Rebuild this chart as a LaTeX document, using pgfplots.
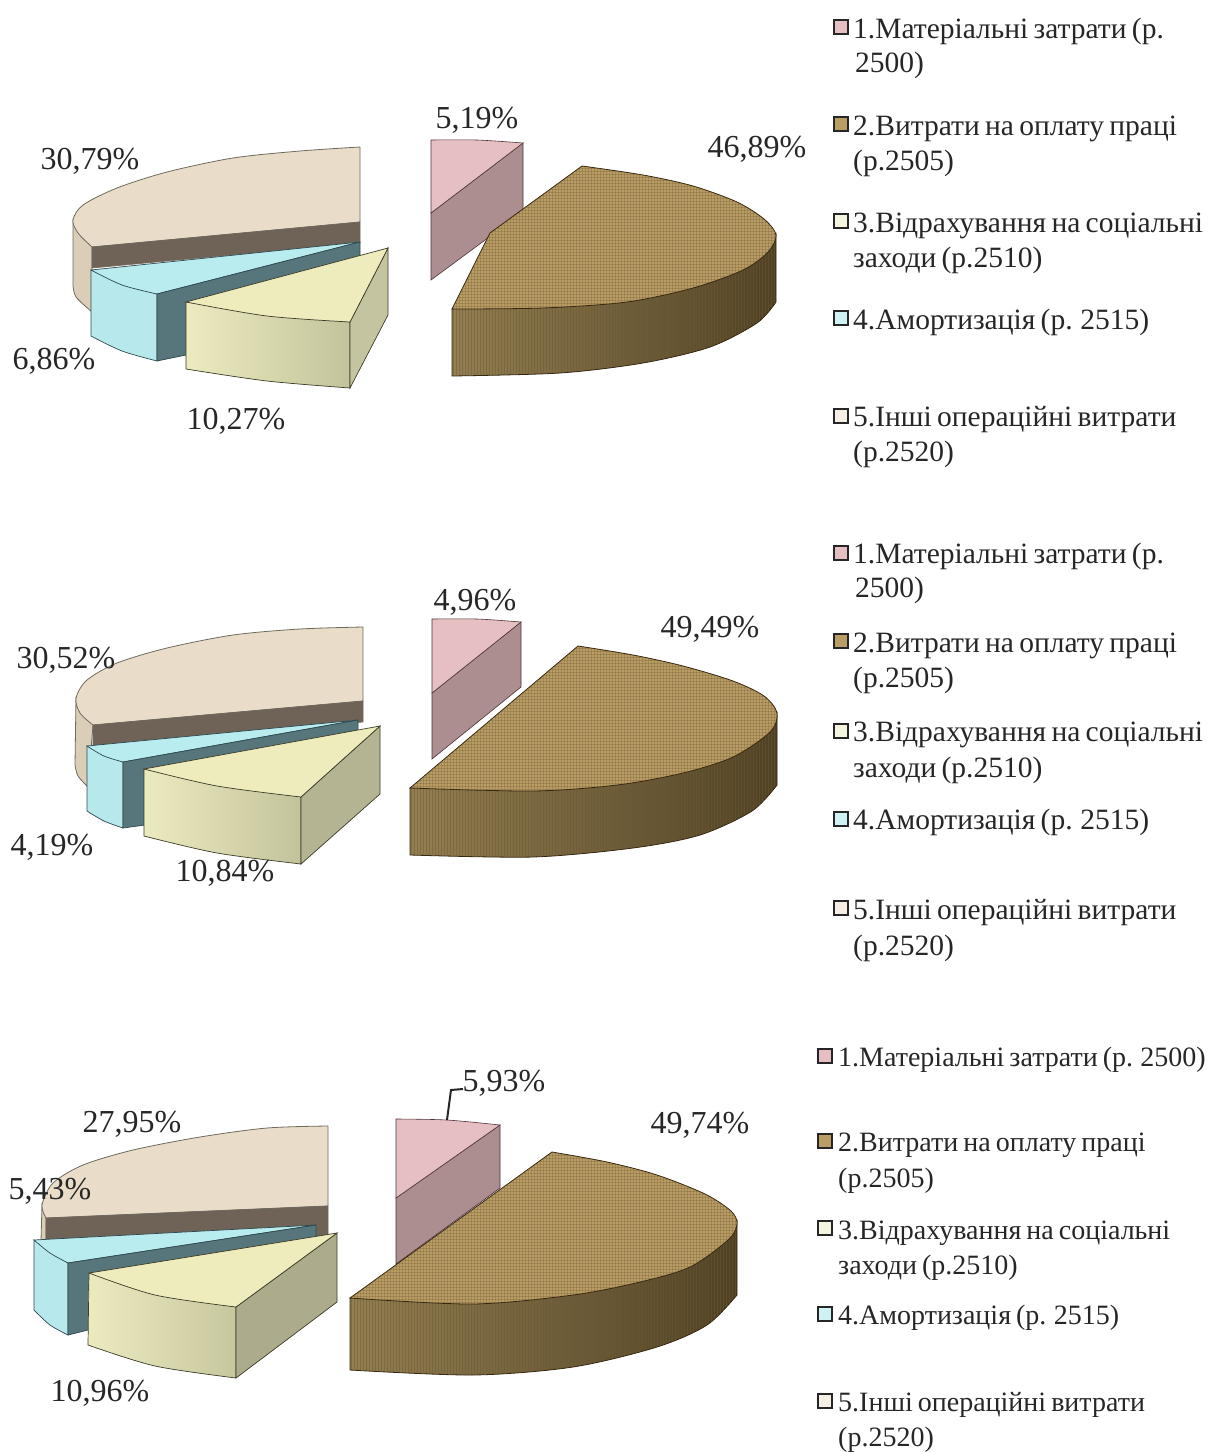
\documentclass[border=0pt]{standalone}
\usepackage{fontspec}
\usepackage{pgfplots}
\pgfplotsset{compat=1.18}
\usetikzlibrary{patterns}
\setmainfont{Liberation Serif}

% slice colours
\definecolor{beigeTop}{HTML}{E9DDC9}
\definecolor{beigeSide}{HTML}{DACEB8}
\definecolor{beigeCut}{HTML}{6E6356}
\definecolor{beigeLine}{HTML}{6F6A5E}
\definecolor{blueTop}{HTML}{B9ECEF}
\definecolor{blueSide}{HTML}{B6E8EC}
\definecolor{blueCut}{HTML}{56767C}
\definecolor{blueLine}{HTML}{2F4A50}
\definecolor{yelTop}{HTML}{EEECBD}
\definecolor{yelL}{HTML}{ECEABF}
\definecolor{yelR}{HTML}{C3C39B}
\definecolor{yelCut}{HTML}{C4C4A0}
\definecolor{yelLine}{HTML}{3C3C28}
\definecolor{pinkTop}{HTML}{E5BFC2}
\definecolor{pinkSide}{HTML}{AC8D90}
\definecolor{pinkLine}{HTML}{4E3438}
\definecolor{brownTop}{HTML}{B99D64}
\definecolor{brownL}{HTML}{937F52}
\definecolor{brownR}{HTML}{4F4125}
\definecolor{brownLine}{HTML}{33240E}
\definecolor{brownWeave}{HTML}{6E5830}

\newcommand{\pct}[2]{\node[anchor=base,inner sep=0pt,font=\fontsize{32}{36}\selectfont,text=black!85] at (axis cs:#1) {#2};}
\newcommand{\leg}[2]{\node[anchor=base west,inner sep=0pt,font=\fontsize{29.5}{34}\selectfont,text=black!85] at (axis cs:#1) {\spaceskip 0.18em\relax #2};}
\newcommand{\legs}[2]{\node[anchor=base west,inner sep=0pt,font=\fontsize{28}{32}\selectfont,text=black!85] at (axis cs:#1) {\spaceskip 0.18em\relax #2};}
\newcommand{\swatch}[2]{\addplot[only marks,mark=square*,mark size=7.2pt,mark options={fill=#1,draw=black!85,line width=1.8pt}] coordinates {#2};}

% one slice of a group, each face given as outline points
\newcommand{\brownslice}[4]{%
  \addplot[left color=brownL,right color=brownR,draw=brownLine,line width=0.8pt,smooth] coordinates {#1} #2 -- cycle;
  \addplot[pattern=vertical lines,pattern color=brownWeave,draw=none,opacity=0.45,smooth] coordinates {#1} #2 -- cycle;
  \addplot[fill=brownTop,draw=brownLine,line width=0.8pt,smooth] coordinates {#3} #4 -- cycle;
  \addplot[pattern=grid,pattern color=brownWeave,draw=none,opacity=0.3,smooth] coordinates {#3} #4 -- cycle;
}

\begin{document}
\begin{tikzpicture}
\begin{axis}[
  width=1223pt,height=1452pt,scale only axis,
  xmin=0,xmax=1223,ymin=0,ymax=1452,y dir=reverse,
  hide axis,clip=false]

% page extent
\addplot[draw=none] coordinates {(0,0)(1223,1452)};

% ---- first group ----
\addplot[fill=beigeSide,draw=beigeLine,line width=0.8pt,smooth] coordinates {(73,285)(76,297)(92,312)} -- (92,247) -- (73,220) -- cycle;
\addplot[fill=beigeTop,draw=beigeLine,line width=0.8pt,smooth] coordinates {(360,147)(300,151)(233,158)(167,172)(117,188)(83,205)(73,220)(78,233)(92,247)} -- (360,222) -- cycle;
\addplot[fill=beigeCut,draw=beigeLine,line width=0.6pt] coordinates {(92,247)(360,222)(360,243)(92,268)} -- cycle;
\addplot[fill=blueSide,draw=blueLine,line width=0.7pt,smooth] coordinates {(91,336)(122,351)(157,361)} -- (157,294) -- (91,270) -- cycle;
\addplot[fill=blueTop,draw=blueLine,line width=0.7pt,smooth] coordinates {(91,270)(122,285)(157,294)} -- (360,242) -- cycle;
\addplot[fill=blueCut,draw=blueLine,line width=0.7pt] coordinates {(157,294)(360,242)(360,270)(300,330)(186,355)(157,361)} -- cycle;
\addplot[left color=yelL,right color=yelR,draw=yelLine,line width=0.7pt,smooth] coordinates {(186,369)(267,381)(350,388)} -- (350,322) -- (186,302) -- cycle;
\addplot[fill=yelCut,draw=yelLine,line width=0.7pt] coordinates {(350,322)(388,248)(388,315)(350,388)} -- cycle;
\addplot[fill=yelTop,draw=yelLine,line width=0.7pt,smooth] coordinates {(186,302)(267,316)(350,322)} -- (388,248) -- cycle;
\addplot[fill=pinkSide,draw=pinkLine,line width=0.6pt] coordinates {(431,213)(523,143)(523,212)(431,280)} -- cycle;
\addplot[fill=pinkTop,draw=pinkLine,line width=0.6pt,smooth] coordinates {(431,140)(477,140)(523,143)} -- (431,213) -- cycle;
\brownslice{(452,376)(560,373)(643,363)(710,347)(757,323)(776,302)}{-- (776,233) -- (452,309)}
  {(582,166)(643,175)(693,186)(737,202)(764,219)(776,235)(768,252)(743,270)(693,288)(627,302)(543,308)(452,309)}{-- (490,233)}

% ---- second group ----
\addplot[fill=beigeSide,draw=beigeLine,line width=0.8pt,smooth] coordinates {(75,765)(78,776)(88,787)} -- (93,725) -- (76,698) -- cycle;
\addplot[fill=beigeTop,draw=beigeLine,line width=0.8pt,smooth] coordinates {(363,627)(300,629)(233,635)(167,648)(117,663)(87,680)(76,698)(80,713)(93,725)} -- (363,701) -- cycle;
\addplot[fill=beigeCut,draw=beigeLine,line width=0.6pt] coordinates {(93,725)(363,701)(363,722)(93,746)} -- cycle;
\addplot[fill=blueSide,draw=blueLine,line width=0.7pt,smooth] coordinates {(87,811)(104,821)(123,828)} -- (123,762) -- (87,746) -- cycle;
\addplot[fill=blueTop,draw=blueLine,line width=0.7pt,smooth] coordinates {(87,746)(104,756)(123,762)} -- (358,720) -- cycle;
\addplot[fill=blueCut,draw=blueLine,line width=0.7pt] coordinates {(123,762)(358,720)(358,730)(300,790)(145,825)(123,828)} -- cycle;
\addplot[left color=yelL,right color=yelR,draw=yelLine,line width=0.7pt,smooth] coordinates {(144,836)(217,853)(301,864)} -- (301,797) -- (144,769) -- cycle;
\addplot[fill=yelCut!92!black,draw=yelLine,line width=0.7pt] coordinates {(301,797)(380,726)(380,794)(301,864)} -- cycle;
\addplot[fill=yelTop,draw=yelLine,line width=0.7pt,smooth] coordinates {(144,769)(217,786)(301,797)} -- (380,726) -- cycle;
\addplot[fill=pinkSide,draw=pinkLine,line width=0.6pt] coordinates {(432,693)(521,622)(521,687)(432,759)} -- cycle;
\addplot[fill=pinkTop,draw=pinkLine,line width=0.6pt,smooth] coordinates {(432,619)(477,619)(521,622)} -- (432,693) -- cycle;
\brownslice{(410,855)(533,857)(633,848)(700,835)(752,811)(777,785)}{-- (777,712) -- (410,788)}
  {(578,646)(633,655)(683,666)(733,681)(764,696)(777,713)(770,732)(733,757)(683,773)(617,785)(533,791)(410,788)}{}

% ---- third group ----
\addplot[fill=beigeSide,draw=beigeLine,line width=0.8pt] coordinates {(42,1205)(41,1241)(46,1241)(46,1218)} -- cycle;
\addplot[fill=beigeTop,draw=beigeLine,line width=0.8pt,smooth] coordinates {(328,1126)(267,1128)(200,1137)(133,1150)(83,1165)(53,1183)(42,1205)(46,1218)} -- (328,1206) -- cycle;
\addplot[fill=beigeCut,draw=beigeLine,line width=0.6pt] coordinates {(46,1218)(328,1206)(328,1236)(46,1241)} -- cycle;
\addplot[fill=blueSide,draw=blueLine,line width=0.7pt,smooth] coordinates {(34,1310)(50,1325)(68,1335)} -- (68,1263) -- (34,1240) -- cycle;
\addplot[fill=blueTop,draw=blueLine,line width=0.7pt,smooth] coordinates {(34,1240)(50,1253)(68,1263)} -- (316,1225) -- cycle;
\addplot[fill=blueCut,draw=blueLine,line width=0.7pt] coordinates {(68,1263)(316,1225)(316,1238)(250,1300)(88,1330)(68,1335)} -- cycle;
\addplot[left color=yelL,right color=yelR!90!yelL,draw=yelLine,line width=0.7pt,smooth] coordinates {(88,1345)(155,1366)(236,1378)} -- (236,1307) -- (89,1273) -- cycle;
\addplot[fill=yelCut!88!black,draw=yelLine,line width=0.7pt] coordinates {(236,1307)(337,1233)(337,1302)(236,1378)} -- cycle;
\addplot[fill=yelTop,draw=yelLine,line width=0.7pt,smooth] coordinates {(89,1273)(155,1295)(236,1307)} -- (337,1233) -- cycle;
\addplot[fill=pinkSide,draw=pinkLine,line width=0.6pt] coordinates {(396,1198)(500,1125)(500,1188)(396,1264)} -- cycle;
\addplot[fill=pinkTop,draw=pinkLine,line width=0.6pt,smooth] coordinates {(396,1119)(447,1120)(500,1125)} -- (396,1198) -- cycle;
\brownslice{(350,1370)(473,1375)(573,1367)(657,1347)(707,1325)(737,1295)}{-- (737,1220) -- (350,1298)}
  {(552,1152)(607,1162)(657,1175)(705,1194)(731,1211)(737,1224)(728,1240)(690,1267)(640,1282)(573,1295)(473,1304)(350,1298)}{}
% leader line of the 5,93% label
\addplot[draw=black!85,line width=2pt] coordinates {(447,1120)(451,1090)(463,1089)};

% ---- legend swatches ----
\swatch{pinkTop}{(841,27)(841,553)}
\swatch{brownTop}{(841,124)(841,641)}
\swatch{yelL!50!white}{(841,221)(841,731)}
\swatch{blueTop!70!white}{(841,318)(841,819)}
\swatch{beigeTop!50!white}{(841,416)(841,908)}
\swatch{pinkTop}{(825,1056)}
\swatch{brownTop}{(825,1141)}
\swatch{yelL!50!white}{(825,1228)}
\swatch{blueTop!70!white}{(825,1314)}
\swatch{beigeTop!50!white}{(825,1401)}

% ---- value labels ----
\pct{477,128}{5,19\%}
\pct{757,157}{46,89\%}
\pct{90,169}{30,79\%}
\pct{54,369}{6,86\%}
\pct{236,429}{10,27\%}
\pct{475,610}{4,96\%}
\pct{710,637}{49,49\%}
\pct{66,668}{30,52\%}
\pct{52,855}{4,19\%}
\pct{225,881}{10,84\%}
\pct{504,1091}{5,93\%}
\pct{700,1133}{49,74\%}
\pct{132,1132}{27,95\%}
\pct{50,1199}{5,43\%}
\pct{100,1401}{10,96\%}

% ---- legend texts ----
\leg{853,38}{1.Матеріальні затрати (р.}
\leg{855,72}{2500)}
\leg{853,135}{2.Витрати на оплату праці}
\leg{853,170}{(р.2505)}
\leg{853,232}{3.Відрахування на соціальні}
\leg{853,267}{заходи (р.2510)}
\leg{853,329}{4.Амортизація (р. 2515)}
\leg{853,426}{5.Інші операційні витрати}
\leg{853,461}{(р.2520)}
\leg{853,563}{1.Матеріальні затрати (р.}
\leg{855,597}{2500)}
\leg{853,652}{2.Витрати на оплату праці}
\leg{853,687}{(р.2505)}
\leg{853,741}{3.Відрахування на соціальні}
\leg{853,777}{заходи (р.2510)}
\leg{853,829}{4.Амортизація (р. 2515)}
\leg{853,919}{5.Інші операційні витрати}
\leg{853,955}{(р.2520)}
\legs{838,1066}{1.Матеріальні затрати (р. 2500)}
\legs{838,1151}{2.Витрати на оплату праці}
\legs{838,1187}{(р.2505)}
\legs{838,1239}{3.Відрахування на соціальні}
\legs{838,1274}{заходи (р.2510)}
\legs{838,1324}{4.Амортизація (р. 2515)}
\legs{838,1411}{5.Інші операційні витрати}
\legs{838,1446}{(р.2520)}
\end{axis}
\end{tikzpicture}
\end{document}
